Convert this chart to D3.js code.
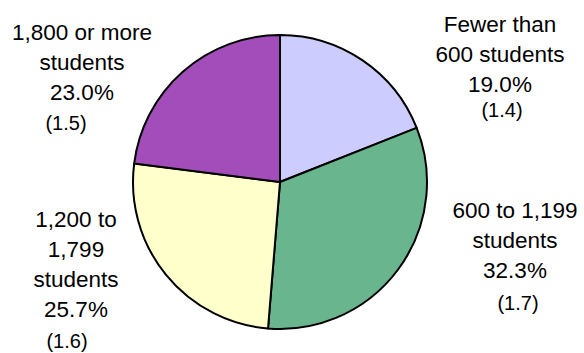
<!DOCTYPE html>
<html>
<head>
<meta charset="utf-8">
<script src="https://cdn.jsdelivr.net/npm/d3@7"></script>
<style>
  body { margin: 0; background: #fff; }
  svg text { font-family: "Liberation Sans", Arial, sans-serif; fill: #000; }
</style>
</head>
<body>
<svg width="584" height="353"></svg>
<script>
'use strict'

// school size categories, clockwise from 12 o'clock
const categories = ['Fewer than 600 students', '600 to 1,199 students', '1,200 to 1,799 students', '1,800 or more students'];
const percents = [19.0, 32.3, 25.7, 23.0];
const stdErrors = ['(1.4)', '(1.7)', '(1.6)', '(1.5)'];
const labelLines = [
  ['Fewer than', '600 students', '19.0%'],
  ['600 to 1,199', 'students', '32.3%'],
  ['1,200 to', '1,799', 'students', '25.7%'],
  ['1,800 or more', 'students', '23.0%']
];
const colors = ['#ccccff', '#69b58e', '#ffffcc', '#a24dba'];

const CX = 280;
const CY = 182;
const RADIUS = 147;
const LINE_H = 30;

// label anchors: center x, first baseline, se offsets
const labelPos = [
  { x: 500, y: 32, sx: 502, sy: 117 },
  { x: 515, y: 218, sx: 518, sy: 310 },
  { x: 76, y: 227, sx: 67, sy: 348 },
  { x: 82, y: 40, sx: 66, sy: 130 }
];

const svg = d3.select('svg');

const pie = d3.pie().sort(null).value(d => d);
const arc = d3.arc().innerRadius(0).outerRadius(RADIUS);

svg.append('g')
  .attr('transform', `translate(${CX},${CY})`)
  .selectAll('path')
  .data(pie(percents))
  .join('path')
  .attr('d', arc)
  .attr('fill', (d, i) => colors[i])
  .attr('stroke', '#000')
  .attr('stroke-width', 2)
  .attr('stroke-linejoin', 'round');

const labels = svg.append('g')
  .selectAll('g')
  .data(categories)
  .join('g');

labels.append('text')
  .attr('text-anchor', 'middle')
  .attr('font-size', 22.5)
  .selectAll('tspan')
  .data((d, i) => labelLines[i].map(t => ({ t, i })))
  .join('tspan')
  .attr('x', d => labelPos[d.i].x)
  .attr('y', (d, j) => labelPos[d.i].y + j * LINE_H)
  .text(d => d.t);

labels.append('text')
  .attr('text-anchor', 'middle')
  .attr('font-size', 20)
  .attr('x', (d, i) => labelPos[i].sx)
  .attr('y', (d, i) => labelPos[i].sy)
  .text((d, i) => stdErrors[i]);
</script>
</body>
</html>
